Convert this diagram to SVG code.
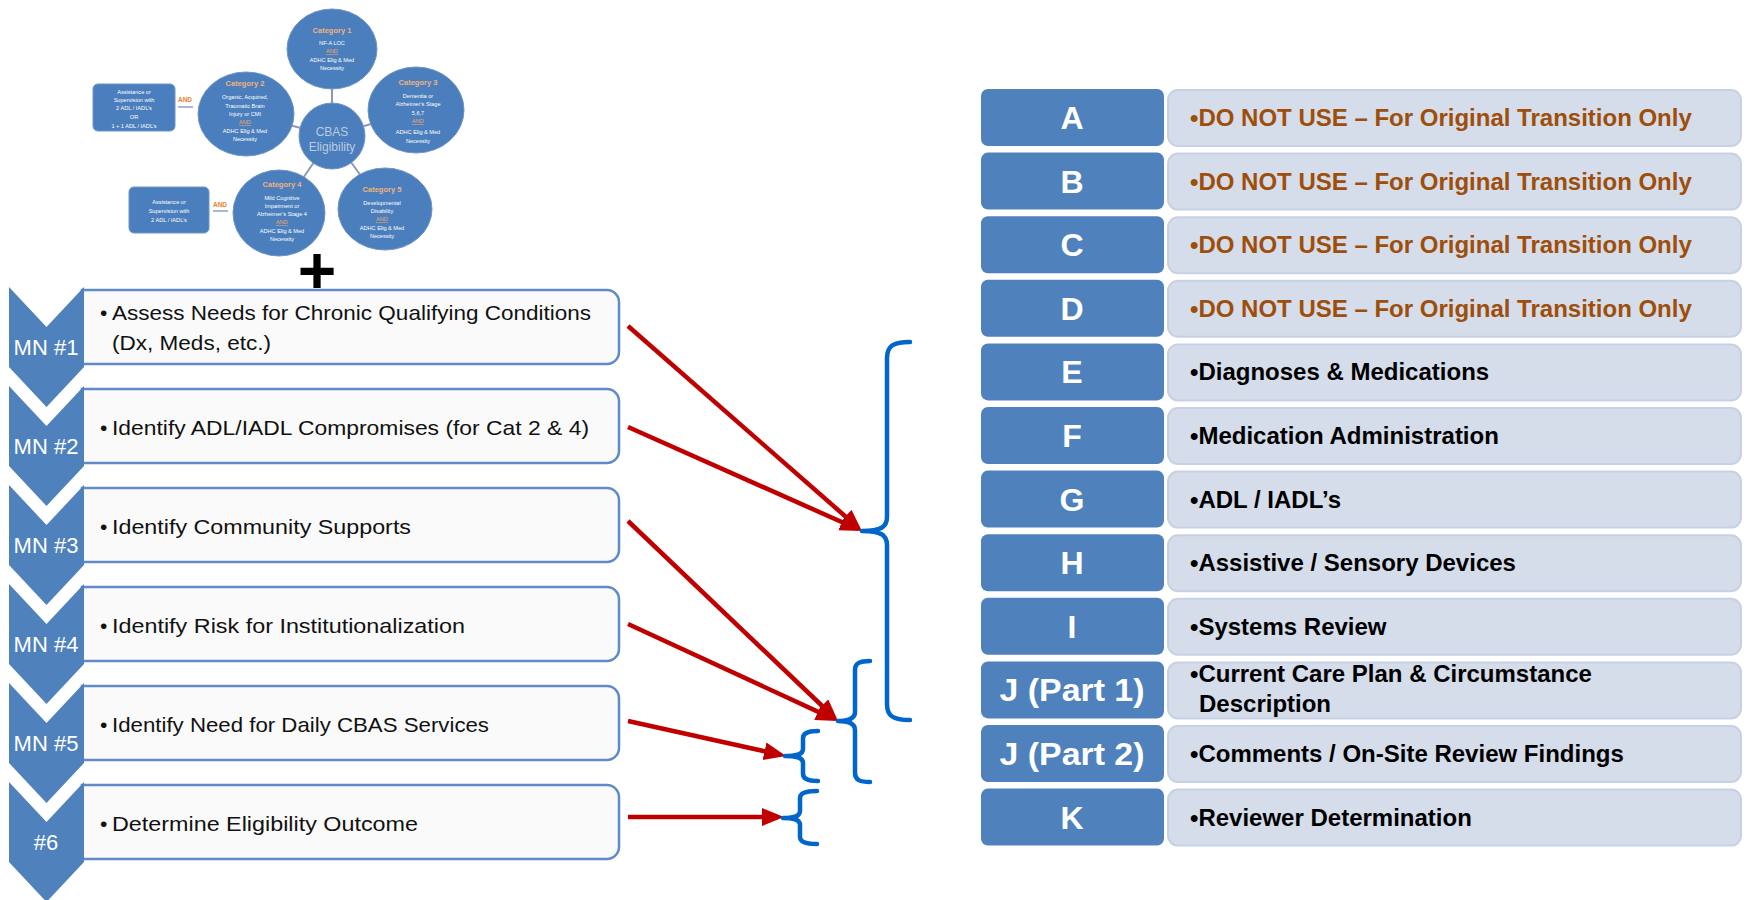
<svg xmlns="http://www.w3.org/2000/svg" width="1750" height="900" viewBox="0 0 1750 900">
<defs>
<style>
.chev{fill:#4F81BD}
.box{fill:#FAFAFA;stroke:#5F8CC8;stroke-width:2.5}
.mn{font-family:"Liberation Sans",Arial,sans-serif;font-size:22px;fill:#fff;text-anchor:middle}
.bt{font-family:"Liberation Sans",Arial,sans-serif;font-size:21px;fill:#111}
.lbox{fill:#4F81BD}
.cbox{fill:#D5DCEA;stroke:#C8D1E4;stroke-width:2}
.let{font-family:"Liberation Sans",Arial,sans-serif;font-size:32px;font-weight:bold;fill:#fff;text-anchor:middle}
.ct{font-family:"Liberation Sans",Arial,sans-serif;font-size:24px;font-weight:bold;fill:#000}
.dn{fill:#9E4E0B}
.arrow{stroke:#C00000;stroke-width:4.5;fill:none;marker-end:url(#ah)}
.brace{stroke:#0066CC;stroke-width:4.5;fill:none;stroke-linecap:round;stroke-linejoin:round}
.circ{fill:#4A7EBC;stroke:#6E95C8;stroke-width:1}
.ctt{font-family:"Liberation Sans",Arial,sans-serif;font-size:7.5px;font-weight:bold;fill:#F0B47E;text-anchor:middle}
.cb{font-family:"Liberation Sans",Arial,sans-serif;font-size:5.6px;fill:#fff;text-anchor:middle}
.cand{fill:#F0A868;text-decoration:underline}
.link{stroke:#8D9AAE;stroke-width:2}
.oand{font-family:"Liberation Sans",Arial,sans-serif;font-size:6.5px;font-weight:bold;fill:#E8822E;text-anchor:middle}
.oline{stroke:#8FA2C0;stroke-width:1.5}
</style>
<marker id="ah" markerUnits="userSpaceOnUse" markerWidth="24" markerHeight="20" refX="14" refY="9" orient="auto"><path d="M0,0 L22,9 L0,18 z" fill="#C00000"/></marker>
</defs>
<rect width="1750" height="900" fill="#FFFFFF"/>

<!-- CBAS cluster -->
<g id="cbas-cluster">
<line class="link" x1="332" y1="136" x2="332" y2="49"/>
<line class="link" x1="332" y1="136" x2="246" y2="114"/>
<line class="link" x1="332" y1="136" x2="416" y2="110"/>
<line class="link" x1="332" y1="136" x2="279" y2="213"/>
<line class="link" x1="332" y1="136" x2="385" y2="209"/>
<line class="oline" x1="178" y1="107" x2="193" y2="107"/>
<line class="oline" x1="213" y1="211" x2="228" y2="211"/>
<g id="cat1"><ellipse class="circ" cx="332" cy="49" rx="45" ry="40"/>
<text class="ctt" x="332" y="33">Category 1</text>
<text class="cb" x="332" y="45">NF-A LOC</text>
<text class="cb cand" x="332" y="53">AND</text>
<text class="cb" x="332" y="62">ADHC Elig &amp; Med</text>
<text class="cb" x="332" y="70">Necessity</text></g>
<g id="cat2"><ellipse class="circ" cx="246" cy="114" rx="48" ry="42"/>
<text class="ctt" x="245" y="86">Category 2</text>
<text class="cb" x="245" y="99">Organic, Acquired,</text>
<text class="cb" x="245" y="108">Traumatic Brain</text>
<text class="cb" x="245" y="116">Injury or CMI</text>
<text class="cb cand" x="245" y="124">AND</text>
<text class="cb" x="245" y="133">ADHC Elig &amp; Med</text>
<text class="cb" x="245" y="141">Necessity</text></g>
<g id="cat3"><ellipse class="circ" cx="416" cy="110" rx="48" ry="43"/>
<text class="ctt" x="418" y="85">Category 3</text>
<text class="cb" x="418" y="98">Dementia or</text>
<text class="cb" x="418" y="106">Alzheimer’s Stage</text>
<text class="cb" x="418" y="115">5,6,7</text>
<text class="cb cand" x="418" y="123">AND</text>
<text class="cb" x="418" y="134">ADHC Elig &amp; Med</text>
<text class="cb" x="418" y="143">Necessity</text></g>
<g id="cat4"><ellipse class="circ" cx="279" cy="213" rx="46" ry="43"/>
<text class="ctt" x="282" y="187">Category 4</text>
<text class="cb" x="282" y="200">Mild Cognitive</text>
<text class="cb" x="282" y="208">Impairment or</text>
<text class="cb" x="282" y="216">Alzheimer’s Stage 4</text>
<text class="cb cand" x="282" y="224">AND</text>
<text class="cb" x="282" y="233">ADHC Elig &amp; Med</text>
<text class="cb" x="282" y="241">Necessity</text></g>
<g id="cat5"><ellipse class="circ" cx="385" cy="209" rx="47" ry="41"/>
<text class="ctt" x="382" y="192">Category 5</text>
<text class="cb" x="382" y="205">Developmental</text>
<text class="cb" x="382" y="213">Disability</text>
<text class="cb cand" x="382" y="221">AND</text>
<text class="cb" x="382" y="230">ADHC Elig &amp; Med</text>
<text class="cb" x="382" y="238">Necessity</text></g>
<g id="cbas-center"><circle class="circ" cx="332" cy="136" r="33"/>
<text x="332" y="136" font-family="Liberation Sans, Arial, sans-serif" font-size="12" fill="#BCCBE2" text-anchor="middle">CBAS</text>
<text x="332" y="151" font-family="Liberation Sans, Arial, sans-serif" font-size="12" fill="#BCCBE2" text-anchor="middle">Eligibility</text></g>
<g id="adl-box1"><rect class="circ" x="93" y="84" width="82" height="47" rx="5"/>
<text class="cb" x="134" y="94">Assistance or</text>
<text class="cb" x="134" y="102">Supervision with</text>
<text class="cb" x="134" y="110">2 ADL / IADL’s</text>
<text class="cb" x="134" y="119">OR</text>
<text class="cb" x="134" y="128">1 + 1 ADL / IADL’s</text></g>
<text class="oand" x="185" y="102">AND</text>
<g id="adl-box2"><rect class="circ" x="129" y="187" width="80" height="46" rx="5"/>
<text class="cb" x="169" y="204">Assistance or</text>
<text class="cb" x="169" y="213">Supervision with</text>
<text class="cb" x="169" y="222">2  ADL / IADL’s</text></g>
<text class="oand" x="220" y="207">AND</text>
</g>

<text x="317" y="293" font-family="Liberation Sans, Arial, sans-serif" font-size="66" font-weight="bold" fill="#000" text-anchor="middle">+</text>

<!-- MN steps -->
<g id="mn1">
<path class="box" d="M82,290 H607 A12,12 0 0 1 619,302 V352 A12,12 0 0 1 607,364 H82 Z"/>
<path class="chev" d="M9,287 L46.5,327 L84,287 L84,367 L46.5,407 L9,367 Z"/>
<text class="mn" x="46" y="355">MN #1</text>
<text class="bt" x="100" y="320">•</text>
<text class="bt" x="112" y="320" textLength="479" lengthAdjust="spacingAndGlyphs">Assess Needs for Chronic Qualifying Conditions</text>
<text class="bt" x="112" y="350" textLength="159" lengthAdjust="spacingAndGlyphs">(Dx, Meds, etc.)</text>
</g>
<g id="mn2">
<path class="box" d="M82,389 H607 A12,12 0 0 1 619,401 V451 A12,12 0 0 1 607,463 H82 Z"/>
<path class="chev" d="M9,386 L46.5,426 L84,386 L84,466 L46.5,506 L9,466 Z"/>
<text class="mn" x="46" y="454">MN #2</text>
<text class="bt" x="100" y="435">•</text>
<text class="bt" x="112" y="435" textLength="477" lengthAdjust="spacingAndGlyphs">Identify ADL/IADL Compromises (for Cat 2 &amp; 4)</text>
</g>
<g id="mn3">
<path class="box" d="M82,488 H607 A12,12 0 0 1 619,500 V550 A12,12 0 0 1 607,562 H82 Z"/>
<path class="chev" d="M9,485 L46.5,525 L84,485 L84,565 L46.5,605 L9,565 Z"/>
<text class="mn" x="46" y="553">MN #3</text>
<text class="bt" x="100" y="534">•</text>
<text class="bt" x="112" y="534" textLength="299" lengthAdjust="spacingAndGlyphs">Identify Community Supports</text>
</g>
<g id="mn4">
<path class="box" d="M82,587 H607 A12,12 0 0 1 619,599 V649 A12,12 0 0 1 607,661 H82 Z"/>
<path class="chev" d="M9,584 L46.5,624 L84,584 L84,664 L46.5,704 L9,664 Z"/>
<text class="mn" x="46" y="652">MN #4</text>
<text class="bt" x="100" y="633">•</text>
<text class="bt" x="112" y="633" textLength="353" lengthAdjust="spacingAndGlyphs">Identify Risk for Institutionalization</text>
</g>
<g id="mn5">
<path class="box" d="M82,686 H607 A12,12 0 0 1 619,698 V748 A12,12 0 0 1 607,760 H82 Z"/>
<path class="chev" d="M9,683 L46.5,723 L84,683 L84,763 L46.5,803 L9,763 Z"/>
<text class="mn" x="46" y="751">MN #5</text>
<text class="bt" x="100" y="732">•</text>
<text class="bt" x="112" y="732" textLength="377" lengthAdjust="spacingAndGlyphs">Identify Need for Daily CBAS Services</text>
</g>
<g id="mn6">
<path class="box" d="M82,785 H607 A12,12 0 0 1 619,797 V847 A12,12 0 0 1 607,859 H82 Z"/>
<path class="chev" d="M9,782 L46.5,822 L84,782 L84,862 L46.5,902 L9,862 Z"/>
<text class="mn" x="46" y="850">#6</text>
<text class="bt" x="100" y="831">•</text>
<text class="bt" x="112" y="831" textLength="306" lengthAdjust="spacingAndGlyphs">Determine Eligibility Outcome</text>
</g>

<!-- connectors -->
<g id="connectors">
<line class="arrow" x1="628" y1="326" x2="856" y2="525.7"/>
<line class="arrow" x1="628" y1="427" x2="854.7" y2="527.8"/>
<line class="arrow" x1="628" y1="521" x2="832.2" y2="715.5"/>
<line class="arrow" x1="628" y1="624" x2="830.7" y2="717.6"/>
<line class="arrow" x1="628" y1="721" x2="778.2" y2="754.3"/>
<line class="arrow" x1="628" y1="817" x2="776" y2="817"/>
<path class="brace" d="M910,342 C893,342 887,346 887,358 L887,517 C887,527 881,531 862,531 C881,531 887,535 887,545 L887,704 C887,716 893,720 910,720"/>
<path class="brace" d="M870,661 C860,661 855,663 855,670 L855,712 C855,718 850,721 838,721 C850,721 855,724 855,730 L855,773 C855,780 860,782 870,782"/>
<path class="brace" d="M818,731 C808,731 803,733 803,738 L803,749 C803,754 798,756 785,756 C798,756 803,758 803,763 L803,774 C803,779 808,781 818,781"/>
<path class="brace" d="M817,791 C806,791 800,793 800,798 L800,811 C800,816 795,818 783,818 C795,818 800,820 800,825 L800,837 C800,842 806,844 817,844"/>
</g>

<!-- right table -->
<g id="row-a"><rect class="cbox" x="1168" y="90" width="573" height="56" rx="10"/><rect class="lbox" x="981" y="89" width="183" height="57" rx="7"/>
<text class="let" x="1072" y="129">A</text><text class="ct dn" x="1190" y="126">•DO NOT USE – For Original Transition Only</text></g>
<g id="row-b"><rect class="cbox" x="1168" y="153.6" width="573" height="56" rx="10"/><rect class="lbox" x="981" y="152.6" width="183" height="57" rx="7"/>
<text class="let" x="1072" y="192.6">B</text><text class="ct dn" x="1190" y="189.6">•DO NOT USE – For Original Transition Only</text></g>
<g id="row-c"><rect class="cbox" x="1168" y="217.2" width="573" height="56" rx="10"/><rect class="lbox" x="981" y="216.2" width="183" height="57" rx="7"/>
<text class="let" x="1072" y="256.2">C</text><text class="ct dn" x="1190" y="253.2">•DO NOT USE – For Original Transition Only</text></g>
<g id="row-d"><rect class="cbox" x="1168" y="280.8" width="573" height="56" rx="10"/><rect class="lbox" x="981" y="279.8" width="183" height="57" rx="7"/>
<text class="let" x="1072" y="319.8">D</text><text class="ct dn" x="1190" y="316.8">•DO NOT USE – For Original Transition Only</text></g>
<g id="row-e"><rect class="cbox" x="1168" y="344.4" width="573" height="56" rx="10"/><rect class="lbox" x="981" y="343.4" width="183" height="57" rx="7"/>
<text class="let" x="1072" y="383.4">E</text><text class="ct" x="1190" y="380.4">•Diagnoses &amp; Medications</text></g>
<g id="row-f"><rect class="cbox" x="1168" y="408" width="573" height="56" rx="10"/><rect class="lbox" x="981" y="407" width="183" height="57" rx="7"/>
<text class="let" x="1072" y="447">F</text><text class="ct" x="1190" y="444">•Medication Administration</text></g>
<g id="row-g"><rect class="cbox" x="1168" y="471.6" width="573" height="56" rx="10"/><rect class="lbox" x="981" y="470.6" width="183" height="57" rx="7"/>
<text class="let" x="1072" y="510.6">G</text><text class="ct" x="1190" y="507.6">•ADL / IADL’s</text></g>
<g id="row-h"><rect class="cbox" x="1168" y="535.2" width="573" height="56" rx="10"/><rect class="lbox" x="981" y="534.2" width="183" height="57" rx="7"/>
<text class="let" x="1072" y="574.2">H</text><text class="ct" x="1190" y="571.2">•Assistive / Sensory Devices</text></g>
<g id="row-i"><rect class="cbox" x="1168" y="598.8" width="573" height="56" rx="10"/><rect class="lbox" x="981" y="597.8" width="183" height="57" rx="7"/>
<text class="let" x="1072" y="637.8">I</text><text class="ct" x="1190" y="634.8">•Systems Review</text></g>
<g id="row-j1"><rect class="cbox" x="1168" y="662.4" width="573" height="56" rx="10"/><rect class="lbox" x="981" y="661.4" width="183" height="57" rx="7"/>
<text class="let" x="1072" y="701.4" textLength="145" lengthAdjust="spacingAndGlyphs">J (Part 1)</text><text class="ct" x="1190" y="682">•Current Care Plan &amp; Circumstance</text><text class="ct" x="1199" y="712">Description</text></g>
<g id="row-j2"><rect class="cbox" x="1168" y="726" width="573" height="56" rx="10"/><rect class="lbox" x="981" y="725" width="183" height="57" rx="7"/>
<text class="let" x="1072" y="765" textLength="145" lengthAdjust="spacingAndGlyphs">J (Part 2)</text><text class="ct" x="1190" y="762">•Comments / On-Site Review Findings</text></g>
<g id="row-k"><rect class="cbox" x="1168" y="789.6" width="573" height="56" rx="10"/><rect class="lbox" x="981" y="788.6" width="183" height="57" rx="7"/>
<text class="let" x="1072" y="828.6">K</text><text class="ct" x="1190" y="825.6">•Reviewer Determination</text></g>
</svg>
